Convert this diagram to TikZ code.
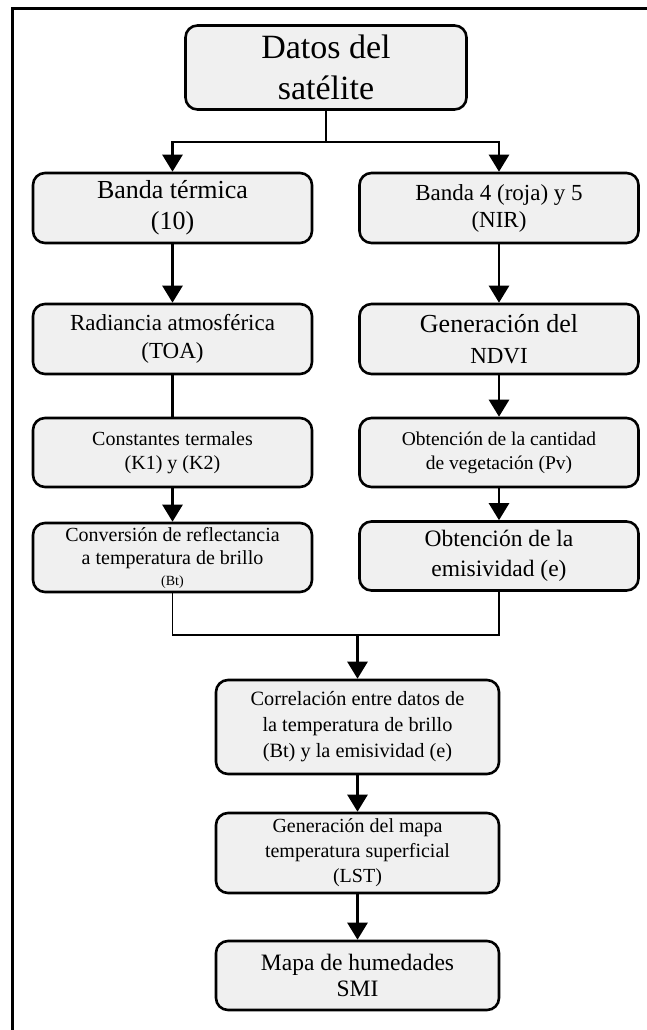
\documentclass[tikz,border=0pt]{standalone}
\usepackage{fontspec}
\setmainfont{Liberation Serif}
\usetikzlibrary{arrows.meta}
\definecolor{boxgray}{RGB}{240,240,240}
\begin{document}
\begin{tikzpicture}[x=1pt,y=-1pt,
  box/.style={draw=black, line width=2.6pt, rounded corners=12pt, fill=boxgray,
    align=center, inner sep=0pt, anchor=center},
  colbox/.style={box, minimum width=279pt},
  midbox/.style={box, minimum width=283pt},
  conn/.style={line width=2.6pt, -{Triangle[width=20pt,length=17pt]}},
  plain/.style={line width=2.6pt},
  thin/.style={line width=1.4pt},
  frame/.style={line width=3pt}
]
\useasboundingbox (0,0) rectangle (647,1030);
\begin{scope}
  \clip (0,0) rectangle (647,1030);
  \draw[frame] (12.5,8.5) rectangle (720,1120);
\end{scope}

% top
\node[box, minimum width=281pt, minimum height=84pt,
  font=\fontsize{34}{41}\selectfont] (top) at (326,67.5) {Datos del\\satélite};

% left column
\node[colbox, minimum height=70pt, font=\fontsize{26}{31}\selectfont]
  (b1) at (172.5,208) {Banda térmica\\(10)};
\node[colbox, minimum height=70pt, font=\fontsize{23}{28}\selectfont]
  (r1) at (172.5,339) {Radiancia atmosférica\\(TOA)};
\node[colbox, minimum height=69pt, font=\fontsize{20}{24}\selectfont]
  (c1) at (172.5,452.5) {Constantes termales\\(K1) y (K2)};
\node[colbox, minimum height=69pt, font=\fontsize{20}{23.5}\selectfont]
  (d1) at (172.5,557.5) {Conversión de reflectancia\\a temperatura de brillo\\[-3pt]{\fontsize{14}{14}\selectfont (Bt)}};

% right column
\node[colbox, minimum height=70pt, font=\fontsize{23}{27}\selectfont]
  (b2) at (499,208) {Banda 4 (roja) y 5\\(NIR)};
\node[colbox, minimum height=70pt, font=\fontsize{26}{31}\selectfont]
  (r2) at (499,339) {Generación del\\{\fontsize{23}{27}\selectfont NDVI}};
\node[colbox, minimum height=69pt, font=\fontsize{19.5}{24}\selectfont]
  (c2) at (499,452.5) {Obtención de la cantidad\\de vegetación (Pv)};
\node[colbox, minimum height=69pt, font=\fontsize{23.5}{30}\selectfont]
  (d2) at (499,556) {Obtención de la\\emisividad (e)};

% bottom column
\node[midbox, minimum height=94pt, font=\fontsize{20.3}{26}\selectfont]
  (e) at (357.5,727) {Correlación entre datos de\\la temperatura de brillo\\(Bt) y la emisividad (e)};
\node[midbox, minimum height=80pt, font=\fontsize{20}{25}\selectfont]
  (f) at (357.5,853) {Generación del mapa\\temperatura superficial\\(LST)};
\node[midbox, minimum height=69pt, font=\fontsize{23.5}{26}\selectfont]
  (g) at (357.5,975.5) {Mapa de humedades\\SMI};

% connectors
\coordinate (split) at (326,142);
\coordinate (join) at (357.5,635);
\draw[plain] (top.south) -- (split);
\draw[conn] (split) -| (b1.north);
\draw[conn] (split) -| (b2.north);
\draw[conn] (b1) -- (r1);
\draw[conn] (b2) -- (r2);
\draw[plain] (r1) -- (c1);
\draw[conn] (r2) -- (c2);
\draw[conn] (c1) -- (d1);
\draw[conn] (c2) -- (d2);
\draw[thin] (d1.south) |- (join);
\draw[plain] (d2.south) |- (join);
\draw[conn] (join) -- (e.north);
\draw[conn] (e) -- (f);
\draw[conn] (f) -- (g);
\end{tikzpicture}
\end{document}
